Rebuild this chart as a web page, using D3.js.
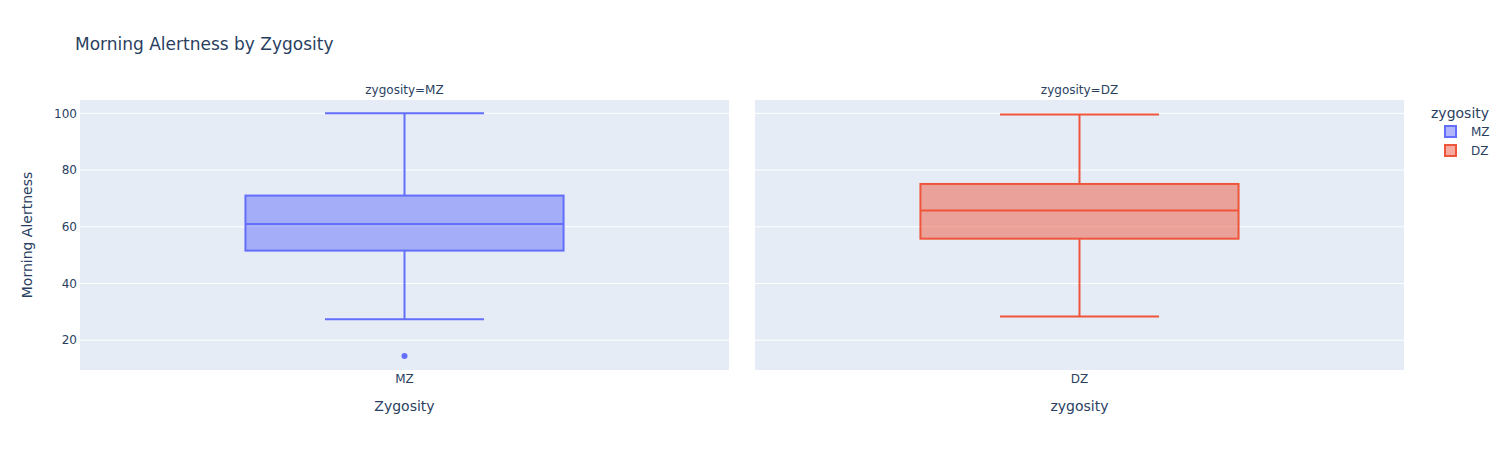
<!DOCTYPE html>
<html><head><meta charset="utf-8">
<script src="https://cdn.jsdelivr.net/npm/d3@7/dist/d3.min.js"></script>
<style>body{margin:0;background:#fff;} text{font-family:"DejaVu Sans",verdana,arial,sans-serif;}</style>
</head><body>
<svg id="c" width="1506" height="450"></svg>
<script>
const categories = ["MZ", "DZ"];
const subplotTitles = ["zygosity=MZ", "zygosity=DZ"];
const xTitles = ["Zygosity", "zygosity"];
const lowerFence = [27.4, 28.4];
const q1 = [51.6, 55.8];
const median = [61.0, 65.7];
const q3 = [71.0, 75.1];
const upperFence = [100, 99.6];
const outliers = [[14.4], []];
const yTicks = [20, 40, 60, 80, 100];
const colors = ["#636efa", "#EF553B"];

const svg = d3.select("#c");
const fontColor = "#2a3f5f";
const plotTop = 100, plotBottom = 370;
const panels = [[80, 729], [755, 1404]];
const y = d3.scaleLinear().domain([9.5, 104.7]).range([plotBottom, plotTop]);

svg.append("text").attr("x", 75).attr("y", 50).attr("fill", fontColor)
  .style("font-size", "17px").text("Morning Alertness by Zygosity");

panels.forEach((p, i) => {
  const g = svg.append("g");
  const x = d3.scaleBand().domain([categories[i]]).range(p).paddingInner(0).paddingOuter(0.52);
  g.append("rect").attr("x", p[0]).attr("y", plotTop).attr("width", p[1]-p[0]).attr("height", plotBottom-plotTop).attr("fill", "#E5ECF6");
  yTicks.forEach(t => {
    g.append("line").attr("x1", p[0]).attr("x2", p[1]).attr("y1", y(t)).attr("y2", y(t))
      .attr("stroke", "#fff").attr("stroke-width", 1);
  });
  if (i === 0) {
    yTicks.forEach(t => {
      g.append("text").attr("x", 77).attr("y", y(t)).attr("dy", "0.35em").attr("text-anchor", "end")
        .attr("fill", fontColor).style("font-size", "12px").text(t);
    });
  }
  const cx = x(categories[i]) + x.bandwidth()/2;
  const bw = x.bandwidth();
  const c = colors[i];
  g.append("line").attr("x1", cx).attr("x2", cx).attr("y1", y(upperFence[i])).attr("y2", y(q3[i])).attr("stroke", c).attr("stroke-width", 2);
  g.append("line").attr("x1", cx).attr("x2", cx).attr("y1", y(q1[i])).attr("y2", y(lowerFence[i])).attr("stroke", c).attr("stroke-width", 2);
  [upperFence[i], lowerFence[i]].forEach(v => {
    g.append("line").attr("x1", cx - bw/4).attr("x2", cx + bw/4).attr("y1", y(v)).attr("y2", y(v)).attr("stroke", c).attr("stroke-width", 2);
  });
  g.append("rect").attr("x", cx - bw/2).attr("y", y(q3[i])).attr("width", bw).attr("height", y(q1[i]) - y(q3[i]))
    .attr("fill", c).attr("fill-opacity", 0.5).attr("stroke", c).attr("stroke-width", 2);
  g.append("line").attr("x1", cx - bw/2).attr("x2", cx + bw/2).attr("y1", y(median[i])).attr("y2", y(median[i])).attr("stroke", c).attr("stroke-width", 2);
  outliers[i].forEach(v => {
    g.append("circle").attr("cx", cx).attr("cy", y(v)).attr("r", 3).attr("fill", c);
  });
  g.append("text").attr("x", cx).attr("y", 383).attr("text-anchor", "middle").attr("fill", fontColor)
    .style("font-size", "12px").text(categories[i]);
  g.append("text").attr("x", (p[0]+p[1])/2).attr("y", 411).attr("text-anchor", "middle").attr("fill", fontColor)
    .style("font-size", "14px").text(xTitles[i]);
  g.append("text").attr("x", (p[0]+p[1])/2).attr("y", 94).attr("text-anchor", "middle").attr("fill", fontColor)
    .style("font-size", "12px").text(subplotTitles[i]);
});

svg.append("text").attr("transform", `translate(32,${(plotTop+plotBottom)/2}) rotate(-90)`).attr("text-anchor", "middle")
  .attr("fill", fontColor).style("font-size", "14px").text("Morning Alertness");

const lg = svg.append("g");
lg.append("text").attr("x", 1431).attr("y", 118).attr("fill", fontColor).style("font-size", "14px").text("zygosity");
categories.forEach((cat, i) => {
  const yy = 132 + i*19;
  lg.append("rect").attr("x", 1445).attr("y", yy-6).attr("width", 11).attr("height", 11)
    .attr("fill", colors[i]).attr("fill-opacity", 0.5).attr("stroke", colors[i]).attr("stroke-width", 2);
  lg.append("text").attr("x", 1471).attr("y", yy).attr("dy", "0.35em").attr("fill", fontColor)
    .style("font-size", "12px").text(cat);
});
</script>
</body></html>
